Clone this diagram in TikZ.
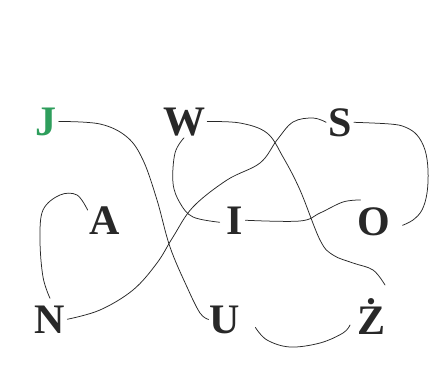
\documentclass[tikz,border=0pt]{standalone}
\usepackage{fontspec}
\setmainfont{Liberation Serif}
\definecolor{jgreen}{RGB}{46,158,92}
\definecolor{ink}{RGB}{40,40,40}
\begin{document}
\begin{tikzpicture}[x=1pt,y=1pt,
  letter/.style={font=\fontsize{42}{42}\selectfont\bfseries, text=ink, inner sep=2pt, anchor=base},
  wire/.style={draw=ink, line width=0.75pt, line cap=round}]
\fill[white] (0,0) rectangle (430,376);
\useasboundingbox (0,0) rectangle (430,376);
% letters (x = centre, y = baseline)
\node[letter, text=jgreen] (J) at (46,241) {J};
\node[letter] (W) at (184,241) {W};
\node[letter] (S) at (340,240) {S};
\node[letter] (A) at (105,142) {A};
\node[letter] (I) at (235,142) {I};
\node[letter] (O) at (374,141) {O};
\node[letter] (N) at (50,43) {N};
\node[letter] (U) at (225,43) {U};
\node[letter] (Z) at (371,42) {Ż};
% J -> U
\draw[wire] plot[smooth, tension=0.6] coordinates {(J.east) (100,252) (127,239) (143,216) (157,176) (170,129) (187,89) (200,63) ([xshift=1pt]U.west)};
% W -> (towards) Z
\draw[wire] plot[smooth, tension=0.6] coordinates {(W.east) (240,253) (267,243) (283,219) (300,186) (320,136) (333,121) (353,113) (373,106) (385,91)};
% W -> I loop
\draw[wire] plot[smooth, tension=0.6] coordinates {(W.south) (175,223) (173,193) (180,173) (193,159) ([xshift=-5pt,yshift=-2pt]I.west)};
% N -> S
\draw[wire] plot[smooth, tension=0.6] coordinates {(N.east) (100,66) (133,86) (157,113) (173,139) (193,169) (227,196) (260,213) (277,236) (293,254) (313,258) (S.west)};
% N -> A loop
\draw[wire] plot[smooth, tension=0.6] coordinates {([yshift=5pt]N.north) (43,99) (40,136) (43,166) (60,181) (77,181) ([yshift=-6pt]A.north west)};
% S -> O
\draw[wire] plot[smooth, tension=0.6] coordinates {(S.east) (390,252) (405,249) (417,241) (425,226) (428,206) (427,183) (422,166) (413,156) ([xshift=10pt,yshift=-4pt]O.east)};
% I -> O
\draw[wire] plot[smooth, tension=0.6] coordinates {(I.east) (300,155) (320,163) (343,174) ([shift={(5,5)}]O.north west)};
% U -> Z
\draw[wire] plot[smooth, tension=0.6] coordinates {([shift={(13,-8)}]U.east) (267,36) (290,29) (320,33) (343,43) (350,51)};
\end{tikzpicture}
\end{document}
